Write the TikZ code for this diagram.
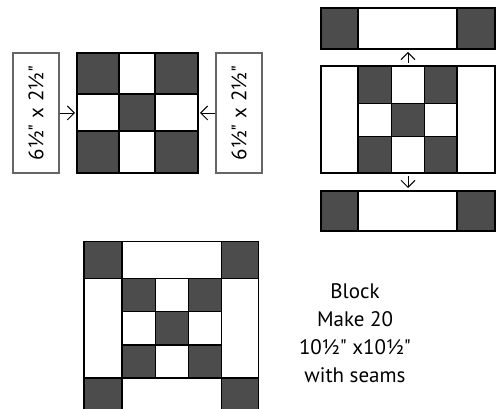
\documentclass[tikz,border=0pt]{standalone}
\usepackage{fontspec}
\setmainfont{PT Sans}[Ligatures=TeXOff]
\usetikzlibrary{arrows.meta}
\definecolor{patch}{gray}{0.3}
\definecolor{seam}{gray}{0.4}
\tikzset{
  strip/.style={draw=seam,line width=1.1pt,inner sep=0pt,outer sep=0pt},
  block/.style={draw=black,line width=1.2pt,inner sep=0pt,outer sep=0pt},
  grid/.style={draw=black,line width=1.2pt},
  sewto/.style={-{Straight Barb[length=7pt,width=14pt]},line width=0.9pt,shorten <=1pt,shorten >=2pt},
  sizetext/.style={font=\fontsize{21}{28}\selectfont}
}

\begin{document}
\begin{tikzpicture}[x=1pt,y=-1pt]
\useasboundingbox (0,0) rectangle (499,409);
\clip (0,0) rectangle (499,409);

% left: nine patch with its two side strips
\fill[patch] (77,53) rectangle (119,94) (155,53) rectangle (198,94) (119,94) rectangle (155,131)
  (77,131) rectangle (119,173) (155,131) rectangle (198,173);
\draw[grid] (119,53)--(119,173) (155,53)--(155,173) (77,94)--(198,94) (77,131)--(198,131);
\node[block,minimum width=121pt,minimum height=120pt] (lnine) at (137.5,113) {};
\node[strip,minimum width=46pt,minimum height=120pt] (lstrip) at (36,113) {};
\node[strip,minimum width=46pt,minimum height=120pt] (rstrip) at (239,113) {};
\node[sizetext,rotate=90] (ltext) at (lstrip) {6½" x 2½"};
\node[sizetext,rotate=90] (rtext) at (rstrip) {6½" x 2½"};
\draw[sewto] (lstrip) -- (lnine);
\draw[sewto] (rstrip) -- (lnine);

% right: top and bottom rows added
\fill[patch] (321,8) rectangle (358,49) (457,8) rectangle (495,49);
\draw[grid] (358,8)--(358,49) (457,8)--(457,49);
\node[block,minimum width=174pt,minimum height=41pt] (tstrip) at (408,28.5) {};
\fill[patch] (358,66) rectangle (391.5,103.5) (424.5,66) rectangle (457,103.5) (391.5,103.5) rectangle (424.5,136.5)
  (358,136.5) rectangle (391.5,173) (424.5,136.5) rectangle (457,173);
\draw[grid] (358,66)--(358,173) (391.5,66)--(391.5,173) (424.5,66)--(424.5,173) (457,66)--(457,173)
  (358,103.5)--(457,103.5) (358,136.5)--(457,136.5);
\node[block,minimum width=174pt,minimum height=107pt] (mblock) at (408,119.5) {};
\fill[patch] (321,191) rectangle (358,231) (457,191) rectangle (495,231);
\draw[grid] (358,191)--(358,231) (457,191)--(457,231);
\node[block,minimum width=174pt,minimum height=40pt] (bstrip) at (408,211) {};
\draw[sewto,shorten <=3pt,shorten >=3pt] (mblock) -- (tstrip);
\draw[sewto,shorten <=3pt,shorten >=3pt] (mblock) -- (bstrip);

% bottom: finished block
\fill[patch] (84,241.7) rectangle (122,278.3) (221.5,241.7) rectangle (258.5,278.3)
  (84,378) rectangle (122,414.6) (221.5,378) rectangle (258.5,414.6);
\fill[patch] (122,278.3) rectangle (155.5,311.7) (188.5,278.3) rectangle (221.5,311.7) (155.5,311.7) rectangle (188.5,345)
  (122,345) rectangle (155.5,378) (188.5,345) rectangle (221.5,378);
\draw[grid] (122,241.7)--(122,414.6) (221.5,241.7)--(221.5,414.6) (155.5,278.3)--(155.5,378) (188.5,278.3)--(188.5,378)
  (84,278.3)--(258.5,278.3) (84,378)--(258.5,378) (122,311.7)--(221.5,311.7) (122,345)--(221.5,345);
\node[block,minimum width=174.5pt,minimum height=172.9pt] (hblock) at (171.25,328.15) {};

\node[sizetext,align=center] (note) at (355,333) {Block\\Make 20\\10½" x10½"\\with seams};
\end{tikzpicture}
\end{document}
